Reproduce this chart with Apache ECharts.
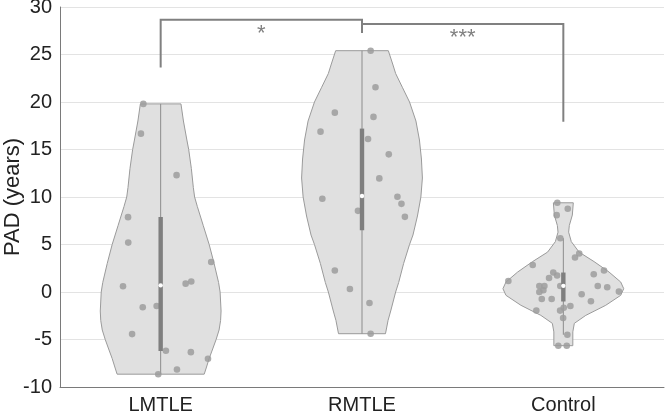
<!DOCTYPE html>
<html><head><meta charset="utf-8">
<script src="https://cdn.jsdelivr.net/npm/echarts@6/dist/echarts.min.js"></script>
<style>html,body{margin:0;padding:0;background:#fff}#c{width:666px;height:414px}</style>
</head><body><div id="c"></div>
<script>
// ---- data ----
const categories = ['LMTLE', 'RMTLE', 'Control'];
const yMin = -10, yMax = 30, yStep = 5;

// individual subjects (value) and horizontal jitter (fraction of category band)
const lmtleValues = [19.8, 16.67, 12.3, 7.88, 5.2, 3.16, 0.6, 0.88, 1.1, -1.6, -1.47, -4.43, -6.19, -6.33, -7.03, -8.15, -8.65];
const lmtleJitter = [-0.086, -0.098, 0.079, -0.162, -0.161, 0.251, -0.187, 0.124, 0.152, -0.089, -0.020, -0.142, 0.026, 0.150, 0.235, 0.081, -0.012];
const rmtleValues = [25.4, 21.56, 18.88, 18.43, 16.88, 16.1, 14.49, 11.96, 9.81, 10.02, 9.28, 7.91, 8.54, 2.26, 0.32, -1.16, -4.39];
const rmtleJitter = [0.043, 0.067, -0.135, 0.057, -0.206, 0.030, 0.133, 0.086, -0.197, 0.176, 0.196, 0.213, -0.020, -0.135, -0.060, 0.037, 0.043];
const controlValues = [9.39, 8.76, 8.09, 5.66, 3.63, 4.05, 2.85, 2.05, 1.73, 1.48, 1.87, 2.26, 1.16, 0.63, 0.63, 0.5, 0.04, 0.63, 0.63, 0, 0.18, -0.24, -0.74, -0.74, -0.98, -1.48, -1.96, -1.96, -1.65, -2.74, -4.5, -5.65, -5.65];
const controlJitter = [-0.030, 0.022, -0.033, -0.015, 0.058, 0.079, -0.152, -0.050, -0.031, -0.071, 0.151, 0.202, -0.273, -0.015, 0.171, 0.218, 0.276, -0.119, -0.094, -0.119, -0.099, 0.091, -0.107, -0.058, 0.137, 0.035, -0.134, -0.016, 0.002, -0.001, 0.020, -0.025, 0.017];

// violin density profiles (value levels and relative density, max = 1)
const lmtleLevels  = [19.8, 18, 16, 15, 13, 11, 10, 9, 8, 7, 5, 3, 1, 0, -2, -3, -4, -5, -6, -7, -8, -8.65];
const lmtleDensity = [0.336, 0.377, 0.434, 0.464, 0.508, 0.541, 0.562, 0.607, 0.656, 0.705, 0.803, 0.885, 0.959, 0.984, 1, 0.992, 0.967, 0.918, 0.861, 0.803, 0.754, 0.721];
const rmtleLevels  = [25.4, 24, 23, 21.5, 20, 18, 16, 14, 12, 10, 8, 6, 5, 3, 1, 0, -2, -3, -4.39];
const rmtleDensity = [0.436, 0.508, 0.557, 0.672, 0.787, 0.893, 0.951, 0.984, 1, 0.975, 0.918, 0.844, 0.787, 0.689, 0.607, 0.557, 0.475, 0.431, 0.389];
const controlLevels  = [9.39, 8.1, 7, 6.3, 5.3, 4.2, 3.2, 2.1, 1.05, 0.35, -0.35, -1.4, -2.46, -3.3, -4.2, -5.65];
const controlDensity = [0.165, 0.149, 0.099, 0.088, 0.132, 0.261, 0.509, 0.757, 0.950, 1, 0.950, 0.702, 0.372, 0.182, 0.157, 0.157];

// box statistics: lower whisker, q1, median, q3, upper whisker
const whiskerLow  = [-8.65, -4.39, -4.5];
const quartile1   = [-6.2, 6.5, -1.0];
const medians     = [0.7, 10.1, 0.65];
const quartile3   = [7.9, 17.2, 2.05];
const whiskerHigh = [19.8, 25.4, 5.66];

// significance brackets
const bracketFrom = [0, 1];
const bracketTo = [1, 2];
const bracketTop = [28.66, 28.2];
const bracketLeftEnd = [23.63, 27.26];
const bracketRightEnd = [27.26, 17.93];
const bracketLabels = ['*', '***'];
const bracketLabelValue = [27.2, 26.75];

// ---- build ----
const groupValues = [lmtleValues, rmtleValues, controlValues];
const groupJitter = [lmtleJitter, rmtleJitter, controlJitter];
const groupLevels = [lmtleLevels, rmtleLevels, controlLevels];
const groupDensity = [lmtleDensity, rmtleDensity, controlDensity];

const VIOLIN_HALF = 0.3; // of band
const FONT = '"Liberation Sans", Arial, sans-serif';

const pointData = [];
groupValues.forEach((vals, g) => vals.forEach((v, i) => pointData.push([g, v, groupJitter[g][i]])));

const chart = echarts.init(document.getElementById('c'), null, {renderer: 'canvas'});
chart.setOption({
  animation: false,
  grid: {left: 60, right: 2, top: 7, bottom: 27, containLabel: false, outerBoundsMode: 'none'},
  xAxis: {
    type: 'category', data: categories, boundaryGap: true,
    axisLine: {onZero: false, lineStyle: {color: '#7a7a7a', width: 1}},
    axisTick: {inside: true, length: 5, alignWithLabel: true, lineStyle: {color: '#7a7a7a'}},
    axisLabel: {color: '#222222', fontFamily: FONT, fontSize: 20, margin: 8},
    splitLine: {show: false}
  },
  yAxis: {
    type: 'value', min: yMin, max: yMax, interval: yStep,
    name: 'PAD (years)', nameLocation: 'middle', nameGap: 36, nameMoveOverlap: false,
    nameTextStyle: {color: '#222222', fontFamily: FONT, fontSize: 22},
    axisLine: {show: true, lineStyle: {color: '#7a7a7a', width: 1}},
    axisTick: {show: false},
    axisLabel: {color: '#222222', fontFamily: FONT, fontSize: 20, margin: 8},
    splitLine: {show: true, lineStyle: {color: '#e3e3e3', width: 1}}
  },
  series: [
    {
      type: 'custom', name: 'violin', silent: true,
      data: categories.map((c, i) => [i, 0]),
      encode: {x: 0, y: 1},
      renderItem: function (params, api) {
        const g = api.value(0);
        const band = api.size([1, 0])[0];
        const cx = api.coord([g, 0])[0];
        const maxHalf = band * VIOLIN_HALF;
        const right = [], left = [];
        groupLevels[g].forEach((lv, i) => {
          const y = api.coord([g, lv])[1];
          const w = groupDensity[g][i] * maxHalf;
          right.push([cx + w, y]);
          left.push([cx - w, y]);
        });
        return {
          type: 'polygon',
          shape: {points: right.concat(left.reverse())},
          style: {fill: '#e0e0e0', stroke: '#9a9a9a', lineWidth: 1}
        };
      }
    },
    {
      type: 'custom', name: 'whisker', silent: true,
      data: categories.map((c, i) => [i, whiskerLow[i], whiskerHigh[i]]),
      encode: {x: 0, y: [1, 2]},
      renderItem: function (params, api) {
        const g = api.value(0);
        const p1 = api.coord([g, api.value(1)]);
        const p2 = api.coord([g, api.value(2)]);
        return {type: 'line', shape: {x1: p1[0], y1: p1[1], x2: p2[0], y2: p2[1]},
          style: {stroke: '#8c8c8c', lineWidth: 1}};
      }
    },
    {
      type: 'custom', name: 'points', silent: true,
      data: pointData,
      encode: {x: 0, y: 1},
      renderItem: function (params, api) {
        const g = api.value(0);
        const band = api.size([1, 0])[0];
        const p = api.coord([g, api.value(1)]);
        return {type: 'circle', shape: {cx: p[0] + api.value(2) * band, cy: p[1], r: 3.3},
          style: {fill: '#9c9c9c', opacity: 0.85}};
      }
    },
    {
      type: 'custom', name: 'box', silent: true,
      data: categories.map((c, i) => [i, quartile1[i], medians[i], quartile3[i]]),
      encode: {x: 0, y: [1, 2, 3]},
      renderItem: function (params, api) {
        const g = api.value(0);
        const q1 = api.coord([g, api.value(1)]);
        const md = api.coord([g, api.value(2)]);
        const q3 = api.coord([g, api.value(3)]);
        return {type: 'group', children: [
          {type: 'rect', shape: {x: q1[0] - 2.2, y: q3[1], width: 4.4, height: q1[1] - q3[1]},
            style: {fill: '#7f7f7f'}},
          {type: 'circle', shape: {cx: md[0], cy: md[1], r: 2.2}, style: {fill: '#ffffff'}}
        ]};
      }
    },
    {
      type: 'custom', name: 'brackets', silent: true,
      data: bracketFrom.map((f, i) => [f, bracketTop[i], bracketTo[i], bracketLeftEnd[i], bracketRightEnd[i], bracketLabelValue[i], i]),
      encode: {x: 0, y: 1},
      renderItem: function (params, api) {
        const a = api.value(0), top = api.value(1), b = api.value(2);
        const pl = api.coord([a, api.value(3)]);
        const pt1 = api.coord([a, top]);
        const pt2 = api.coord([b, top]);
        const pr = api.coord([b, api.value(4)]);
        const lab = api.coord([a, api.value(5)]);
        const idx = api.value(6);
        return {type: 'group', children: [
          {type: 'polyline', shape: {points: [pl, pt1, pt2, pr]},
            style: {stroke: '#808080', lineWidth: 2, fill: null}},
          {type: 'text', x: (pt1[0] + pt2[0]) / 2, y: lab[1],
            style: {text: bracketLabels[idx], fill: '#808080', font: '22px ' + FONT,
              align: 'center', verticalAlign: 'middle'}}
        ]};
      }
    }
  ]
});
</script>
</body></html>
